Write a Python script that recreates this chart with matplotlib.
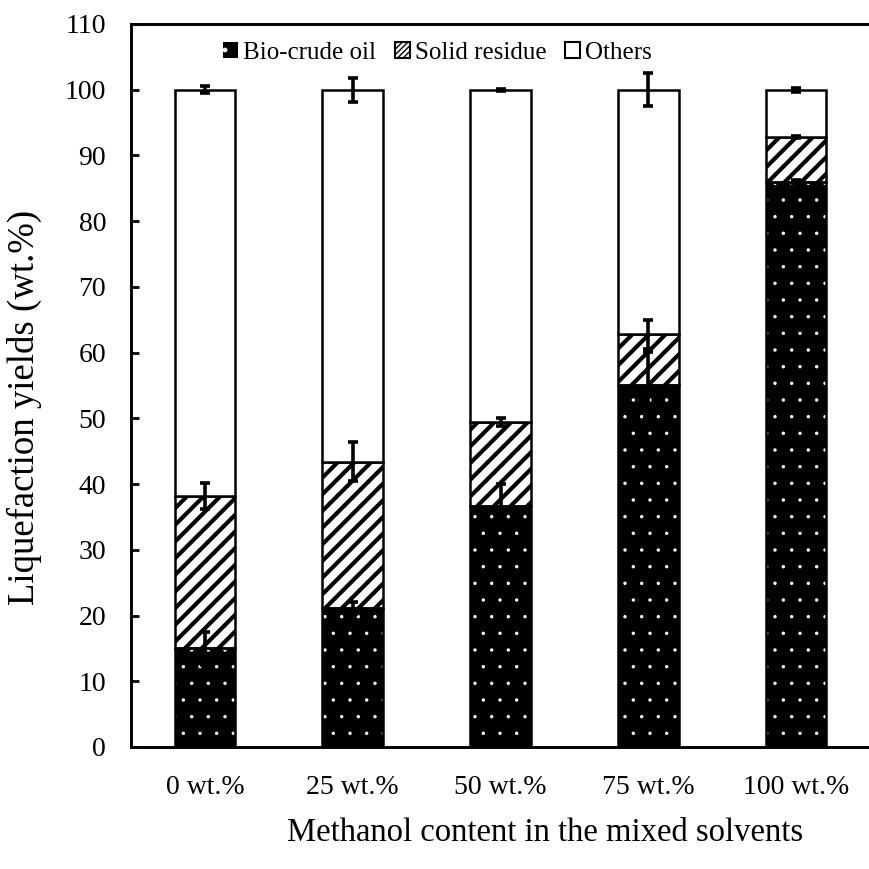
import matplotlib
matplotlib.use("Agg")
import matplotlib.pyplot as plt
import numpy as np
from matplotlib.patches import Patch

categories = ["0 wt.%", "25 wt.%", "50 wt.%", "75 wt.%", "100 wt.%"]
bio_crude = [15.0, 21.2, 36.7, 55.1, 86.0]
bio_err = [2.5, 0.9, 3.3, 5.0, 0.2]
solid_residue = [23.2, 22.2, 12.8, 7.7, 6.8]
solid_err = [2.0, 3.0, 0.6, 2.2, 0.2]
others = [61.8, 56.6, 50.5, 37.2, 7.2]
others_err = [0.5, 1.8, 0.15, 2.5, 0.3]
yticks = list(range(0, 111, 10))

plt.rcParams['font.family'] = ['Liberation Serif', 'DejaVu Serif']

fig = plt.figure(figsize=(8.70, 8.69), dpi=100)
ax = fig.add_axes([0.1506, 0.1404, 0.8494, 0.8320])

x = np.arange(len(categories))
w = 0.41
bio = np.array(bio_crude)
sol = np.array(solid_residue)
oth = np.array(others)

def make_bars(*args, hlw=1.0, **kw):
    with plt.rc_context({'hatch.linewidth': hlw}):
        bars = ax.bar(*args, **kw)
    for p in bars:
        if hasattr(p, 'set_hatch_linewidth'):
            p.set_hatch_linewidth(hlw)
    return bars

# bio-crude: black with white dots
make_bars(x, bio, w, color='black', edgecolor='white', hatch='.', linewidth=0, hlw=0.05, zorder=2)
ax.bar(x, bio, w, fill=False, edgecolor='black', linewidth=1.8, zorder=2.1)
# solid residue: hatched
make_bars(x, sol, w, bottom=bio, facecolor='white', edgecolor='black', hatch='//', linewidth=1.8, hlw=3.0, zorder=2)
# others: white
ax.bar(x, oth, w, bottom=bio + sol, facecolor='white', edgecolor='black', linewidth=1.8, zorder=2)

ekw = dict(fmt='none', ecolor='black', elinewidth=2.6, capsize=3.8, capthick=2.6, zorder=3)
ax.errorbar(x, bio, yerr=bio_err, **ekw)
ax.errorbar(x, bio + sol, yerr=solid_err, **ekw)
ax.errorbar(x, bio + sol + oth, yerr=others_err, **ekw)

ax.set_xlim(-0.5, len(categories) - 0.5)
ax.set_ylim(0, 110)
ax.set_yticks(yticks)
ax.set_xticks(x)
ax.set_xticklabels(categories)
ax.tick_params(axis='y', direction='in', length=6, width=2.0, labelsize=20, pad=18)
ax.tick_params(axis='x', length=0, labelsize=20, pad=20)
for s in ['left', 'bottom', 'top']:
    ax.spines[s].set_linewidth(2.1)
ax.spines['right'].set_visible(False)

ax.set_xlabel("Methanol content in the mixed solvents", fontsize=23.5)
ax.xaxis.set_label_coords(0.56, -0.097)
ax.set_ylabel("Liquefaction yields (wt.%)", fontsize=26.5)
ax.yaxis.set_label_coords(-0.12, 0.47)

with plt.rc_context({'hatch.linewidth': 0.05}):
    h1 = Patch(facecolor='black', edgecolor='white', hatch='.', linewidth=0)
with plt.rc_context({'hatch.linewidth': 2.0}):
    h2 = Patch(facecolor='white', edgecolor='black', hatch='//////', linewidth=1.5)
h3 = Patch(facecolor='white', edgecolor='black', linewidth=1.5)
for h, lw in ((h1, 0.05), (h2, 2.0)):
    if hasattr(h, 'set_hatch_linewidth'):
        h.set_hatch_linewidth(lw)
ax.legend([h1, h2, h3], ["Bio-crude oil", "Solid residue", "Others"], ncol=3,
          loc='center', bbox_to_anchor=(0.415, 0.96), frameon=False, fontsize=18,
          handlelength=0.6, handleheight=0.6, handletextpad=0.2, columnspacing=0.75,
          borderaxespad=0, borderpad=0)

fig.savefig("out.png", dpi=100)
